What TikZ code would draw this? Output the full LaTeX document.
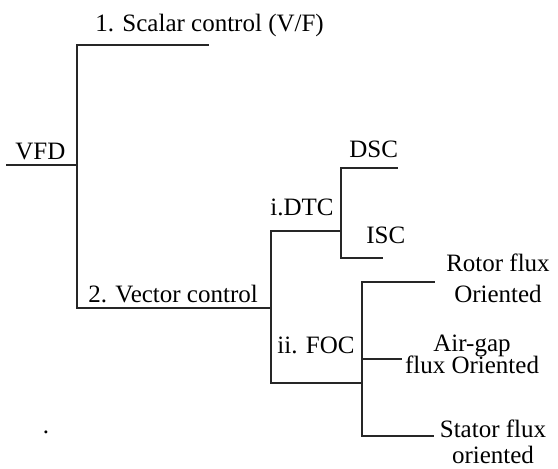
\documentclass[tikz,border=0pt]{standalone}
\usepackage{fontspec}
\setmainfont{Liberation Serif}
\begin{document}
\begin{tikzpicture}[x=0.5pt, y=-0.5pt, font=\fontsize{12.5}{15}\selectfont,
    branch/.style={line width=1pt, black!85, line cap=rect},
    lbl/.style={inner sep=0pt, anchor=base west},
    leaf/.style={inner sep=0pt, anchor=base, align=center}]
    \useasboundingbox (0,0) rectangle (558,468);

    % Tronco principal (VFD)
    \coordinate (vfdL) at (7,165);
    \coordinate (vfdR) at (77,165);
    \coordinate (scalarL) at (77,45);
    \coordinate (scalarR) at (208,45);
    \coordinate (vectorL) at (77,308);
    \coordinate (vectorR) at (271,308);
    \draw[branch] (vfdL) -- (vfdR);
    \draw[branch] (scalarR) -- (scalarL) -- (vectorL) -- (vectorR);
    \node[lbl] (vfd) at (15,159) {VFD};
    \node[lbl] (scalar) at (95,31) {1. Scalar control (V/F)};
    \node[lbl] (vector) at (88,302) {2. Vector control};

    % Rama vectorial: DTC y FOC
    \coordinate (dtcL) at (271,231);
    \coordinate (dtcR) at (341,231);
    \coordinate (focL) at (271,383);
    \coordinate (focR) at (362,383);
    \draw[branch] (dtcR) -- (dtcL) -- (focL) -- (focR);
    \node[lbl] (dtc) at (270,215) {i.DTC};
    \node[lbl] (foc) at (277,353) {ii. FOC};

    % DTC: DSC / ISC
    \coordinate (dscL) at (341,168);
    \coordinate (dscR) at (397,168);
    \coordinate (iscL) at (341,258);
    \coordinate (iscR) at (382,258);
    \draw[branch] (dscR) -- (dscL) -- (iscL) -- (iscR);
    \node[lbl] (dsc) at (349,157) {DSC};
    \node[lbl] (isc) at (366,243) {ISC};

    % FOC: rotor / air-gap / stator
    \coordinate (rotorL) at (362,282);
    \coordinate (rotorR) at (434,282);
    \coordinate (airgapL) at (362,359);
    \coordinate (airgapR) at (401,359);
    \coordinate (statorL) at (362,436);
    \coordinate (statorR) at (433,436);
    \draw[branch] (rotorR) -- (rotorL) -- (statorL) -- (statorR);
    \draw[branch] (airgapL) -- (airgapR);
    \node[leaf] (rotor) at (498,302) {Rotor flux\\[0.5pt]Oriented};
    \node[leaf] (airgap) at (472,373) {Air-gap\\[-4pt]flux Oriented};
    \node[leaf] (stator) at (493,463) {Stator flux\\[-2pt]oriented};

    \node[inner sep=0pt] (dot) at (46,432) {.};
\end{tikzpicture}
\end{document}
